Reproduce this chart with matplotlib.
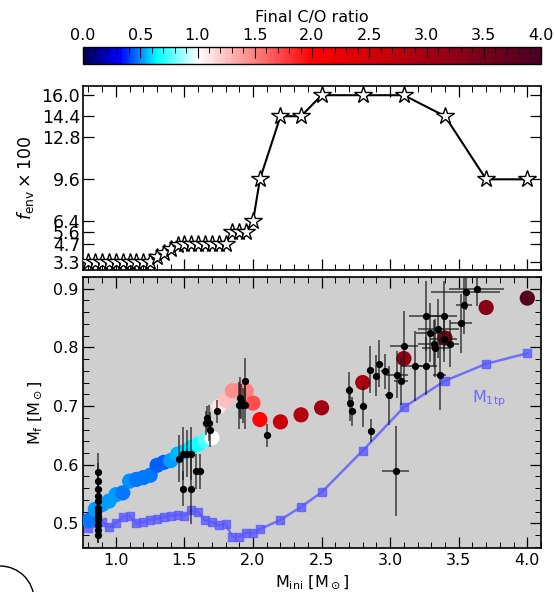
import numpy as np
import matplotlib
matplotlib.use('Agg')
import matplotlib.pyplot as plt
from matplotlib.colors import LinearSegmentedColormap, Normalize
from matplotlib.ticker import MultipleLocator, FixedLocator
from matplotlib.cm import ScalarMappable
from matplotlib.patches import Ellipse

# ---------------- data ----------------
m_ini = [0.80, 0.85, 0.90, 0.95, 1.00, 1.05, 1.10, 1.15, 1.20, 1.25,
         1.30, 1.35, 1.40, 1.45, 1.50, 1.55, 1.60, 1.65, 1.70, 1.75,
         1.80, 1.85, 1.90, 1.95, 2.00, 2.05, 2.20, 2.35, 2.50, 2.80,
         3.10, 3.40, 3.70, 4.00]
f_env = [3.3, 3.3, 3.3, 3.3, 3.3, 3.3, 3.3, 3.3, 3.3, 3.3,
         3.7, 4.0, 4.3, 4.6, 4.7, 4.7, 4.7, 4.7, 4.7, 4.7,
         4.7, 5.6, 5.6, 5.6, 6.4, 9.6, 14.4, 14.4, 16.0, 16.0,
         16.0, 14.4, 9.6, 9.6]
m_final = [0.505, 0.524, 0.532, 0.538, 0.549, 0.552, 0.572, 0.575, 0.578, 0.582,
           0.599, 0.604, 0.607, 0.618, 0.622, 0.630, 0.635, 0.641, 0.646, 0.699,
           0.710, 0.726, 0.727, 0.726, 0.705, 0.677, 0.673, 0.685, 0.697, 0.740,
           0.781, 0.816, 0.868, 0.884]
c_to_o = [0.47, 0.52, 0.52, 0.52, 0.52, 0.47, 0.50, 0.47, 0.47, 0.47,
          0.44, 0.44, 0.52, 0.55, 0.58, 0.62, 0.68, 0.75, 1.00, 1.12,
          1.25, 1.45, 1.45, 1.50, 1.70, 1.97, 2.60, 2.85, 3.05, 2.95,
          3.20, 3.45, 3.30, 3.85]
m_1tp = [0.492, 0.500, 0.503, 0.493, 0.500, 0.511, 0.513, 0.500, 0.503, 0.506,
         0.508, 0.511, 0.513, 0.515, 0.513, 0.522, 0.519, 0.506, 0.502, 0.497,
         0.499, 0.477, 0.477, 0.484, 0.483, 0.490, 0.506, 0.528, 0.553, 0.624,
         0.698, 0.743, 0.772, 0.790]

# observed clusters: initial mass, final mass, errors
obs_mi = [0.87, 0.87, 0.87, 0.87, 0.87, 0.87, 0.87, 0.87, 0.87, 0.87, 0.87, 0.87,
          1.46, 1.49, 1.52, 1.55, 1.487, 1.547, 1.585, 1.61,
          1.657, 1.68, 1.665, 1.685, 1.735,
          1.905, 1.91, 1.90, 1.925, 1.94, 1.945, 2.10,
          2.70, 2.71, 2.72, 2.80, 2.85, 2.86, 2.90, 2.92, 2.96, 2.99,
          3.04, 3.05, 3.08, 3.10, 3.18, 3.26, 3.26, 3.29, 3.32, 3.33,
          3.35, 3.36, 3.39, 3.39, 3.44, 3.52, 3.54, 3.55, 3.63]
obs_mf = [0.587, 0.573, 0.559, 0.547, 0.538, 0.526, 0.519, 0.512, 0.505, 0.497, 0.489, 0.481,
          0.610, 0.619, 0.619, 0.619, 0.559, 0.559, 0.589, 0.589,
          0.671, 0.671, 0.680, 0.660, 0.691,
          0.714, 0.708, 0.701, 0.701, 0.742, 0.701, 0.650,
          0.728, 0.705, 0.691, 0.700, 0.762, 0.658, 0.752, 0.772, 0.759, 0.718,
          0.589, 0.753, 0.742, 0.802, 0.768, 0.768, 0.853, 0.825, 0.806, 0.799,
          0.832, 0.753, 0.853, 0.815, 0.806, 0.841, 0.873, 0.894, 0.900]
obs_mi_err = [0.0, 0.0, 0.0, 0.0, 0.0, 0.0, 0.0, 0.0, 0.0, 0.0, 0.0, 0.0,
              0.0, 0.0, 0.0, 0.0, 0.01, 0.01, 0.02, 0.02,
              0.01, 0.01, 0.01, 0.01, 0.01,
              0.0, 0.0, 0.0, 0.0, 0.0, 0.0, 0.0,
              0.0, 0.0, 0.0, 0.0, 0.0, 0.01, 0.0, 0.0, 0.03, 0.03,
              0.10, 0.08, 0.05, 0.10, 0.10, 0.08, 0.12, 0.10, 0.12, 0.10,
              0.15, 0.05, 0.10, 0.10, 0.06, 0.08, 0.06, 0.25, 0.20]
obs_mf_err = [0.033, 0.03, 0.03, 0.03, 0.03, 0.03, 0.03, 0.03, 0.03, 0.03, 0.02, 0.015,
              0.04, 0.045, 0.04, 0.045, 0.03, 0.06, 0.03, 0.03,
              0.02, 0.03, 0.02, 0.03, 0.02,
              0.035, 0.03, 0.04, 0.03, 0.04, 0.04, 0.02,
              0.03, 0.03, 0.025, 0.035, 0.04, 0.02, 0.035, 0.04, 0.03, 0.05,
              0.077, 0.04, 0.04, 0.06, 0.06, 0.05, 0.06, 0.05, 0.04, 0.05,
              0.05, 0.06, 0.06, 0.04, 0.04, 0.05, 0.05, 0.03, 0.03]

fenv_ticks = [3.3, 4.7, 5.6, 6.4, 9.6, 12.8, 14.4, 16.0]

# ---------------- style ----------------
cmap = LinearSegmentedColormap.from_list(
    'co', [(0.0, (0.0, 0.0, 0.33)), (0.08, (0.0, 0.0, 1.0)), (0.16, (0.0, 1.0, 1.0)),
           (0.25, (1.0, 1.0, 1.0)), (0.5, (1.0, 0.0, 0.0)), (1.0, (0.29, 0.0, 0.14))])
norm = Normalize(0.0, 4.0)

fig = plt.figure(figsize=(5.54, 5.92), dpi=100)
W, H = 554.0, 592.0

def box(x0, y0, x1, y1):
    return [x0 / W, 1 - y1 / H, (x1 - x0) / W, (y1 - y0) / H]

cax = fig.add_axes(box(83, 47, 541, 64))
ax1 = fig.add_axes(box(83, 86, 541, 270))
ax2 = fig.add_axes(box(83, 277, 541, 548))

# colorbar
cb = fig.colorbar(ScalarMappable(norm=norm, cmap=cmap), cax=cax, orientation='horizontal')
cax.xaxis.set_ticks_position('top')
cax.xaxis.set_label_position('top')
cb.set_ticks([0.0, 0.5, 1.0, 1.5, 2.0, 2.5, 3.0, 3.5, 4.0])
cax.xaxis.set_minor_locator(MultipleLocator(0.1))
cax.tick_params(axis='x', which='major', direction='in', length=8, width=0.8, labelsize=11.5, pad=3)
cax.tick_params(axis='x', which='minor', direction='in', length=4, width=0.6)
cb.set_label('Final C/O ratio', fontsize=11.5, labelpad=4)
cb.outline.set_linewidth(1.0)

xlim = (0.76, 4.10)

# top panel
ax1.plot(m_ini, f_env, '-', color='black', lw=1.5, marker='*', ms=13,
         mfc='white', mec='black', mew=1.0, zorder=3)
ax1.set_xlim(*xlim)
ax1.set_ylim(2.7, 16.7)
ax1.yaxis.set_major_locator(FixedLocator(fenv_ticks))
ax1.set_yticklabels(['%.1f' % t for t in fenv_ticks])
ax1.xaxis.set_major_locator(MultipleLocator(0.5))
ax1.xaxis.set_minor_locator(MultipleLocator(0.1))
ax1.tick_params(axis='both', which='both', direction='in', top=True, right=True)
ax1.tick_params(axis='both', which='major', length=8, width=0.9)
ax1.tick_params(axis='both', which='minor', length=4, width=0.7)
ax1.tick_params(axis='x', labelbottom=False)
ax1.tick_params(axis='y', labelsize=12.5, pad=2)
ax1.set_ylabel(r'$f_{\rm env}\times 100$', fontsize=12.5, labelpad=4)
for s in ax1.spines.values():
    s.set_linewidth(1.2)

# bottom panel
ax2.set_facecolor('#cfcfcf')
ax2.plot(m_ini, m_1tp, '-', color='#5a5aff', alpha=0.8, lw=1.8, marker='s', ms=5.5, zorder=2)
ax2.scatter(m_ini, m_final, c=c_to_o, cmap=cmap, norm=norm, s=120, edgecolors='none', zorder=3)
ax2.errorbar(obs_mi, obs_mf, xerr=obs_mi_err, yerr=obs_mf_err, fmt='o', color='black',
             ms=4.2, ecolor=(0.1, 0.1, 0.1, 0.75), elinewidth=1.2, capsize=0, zorder=4)
ax2.text(3.6, 0.707, r'M$_{\rm 1tp}$', color='#6a6aff', fontsize=11.5, zorder=5)
ax2.set_xlim(*xlim)
ax2.set_ylim(0.458, 0.92)
ax2.xaxis.set_major_locator(MultipleLocator(0.5))
ax2.xaxis.set_minor_locator(MultipleLocator(0.1))
ax2.yaxis.set_major_locator(MultipleLocator(0.1))
ax2.yaxis.set_minor_locator(MultipleLocator(0.02))
ax2.tick_params(axis='both', which='both', direction='in', top=True, right=True)
ax2.tick_params(axis='both', which='major', length=8, width=0.9, labelsize=11.5)
ax2.tick_params(axis='both', which='minor', length=4, width=0.7)
ax2.set_xlabel(r'M$_{\rm ini}$ [M$_\odot$]', fontsize=11.5, labelpad=4)
ax2.set_ylabel(r'M$_{\rm f}$ [M$_\odot$]', fontsize=11.5, labelpad=6)
for s in ax2.spines.values():
    s.set_linewidth(1.2)

# stray circle arc in the lower-left corner of the original image
fig.add_artist(Ellipse((0.0, 1 - 600 / H), 2 * 34 / W, 2 * 34 / H,
                       transform=fig.transFigure, fill=False, lw=1.0, color='black'))

fig.savefig('out.png', dpi=100)
